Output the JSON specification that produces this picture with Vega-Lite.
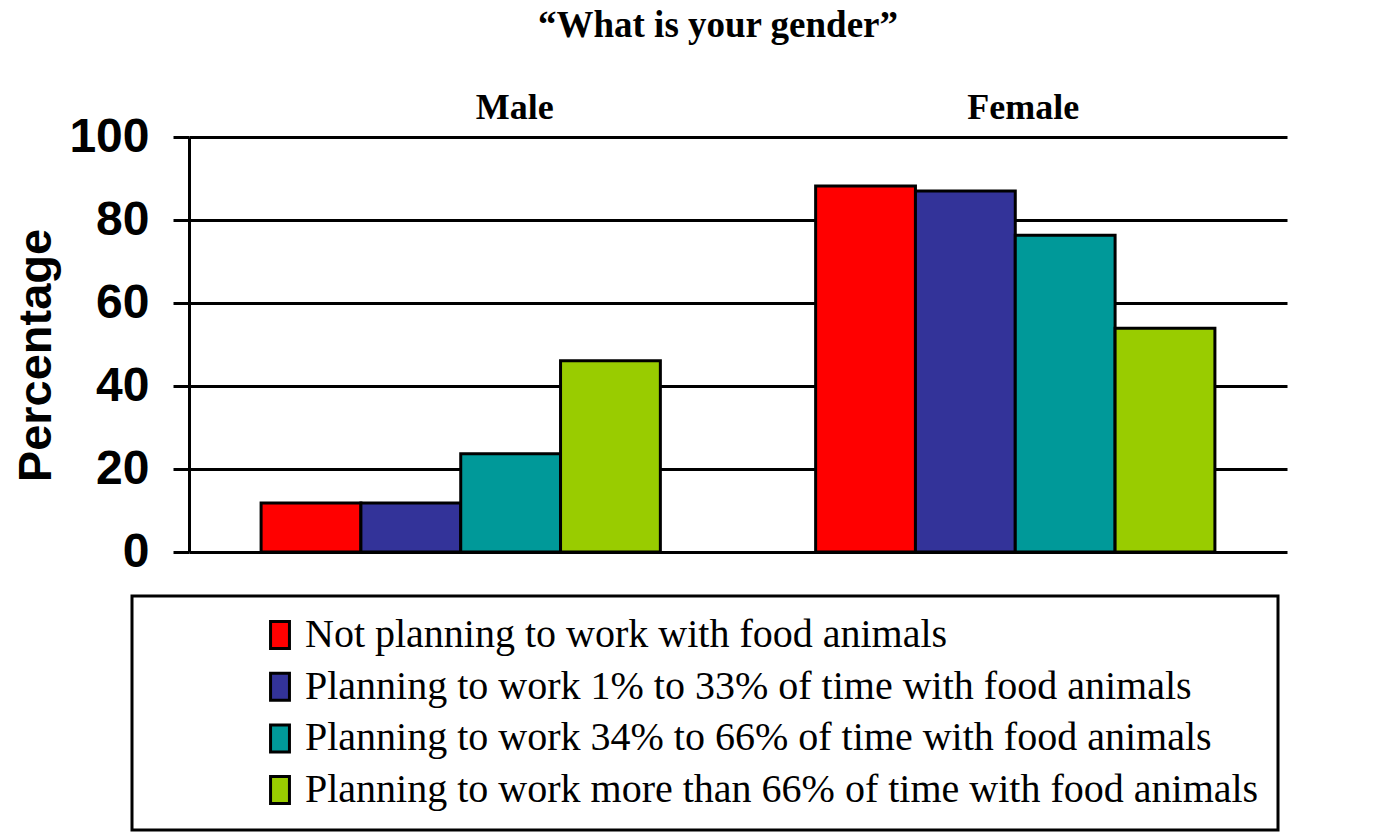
{
  "$schema": "https://vega.github.io/schema/vega-lite/v6.json",
  "width": 1098,
  "height": 415,
  "autosize": {"type": "none"},
  "padding": {"left": 189, "top": 137, "right": 108, "bottom": 281},
  "background": "white",
  "title": {
    "text": "“What is your gender”",
    "font": "Liberation Serif",
    "fontSize": 37,
    "fontWeight": "bold",
    "color": "black",
    "anchor": "middle",
    "frame": "group",
    "dx": -20,
    "offset": 44
  },
  "data": {
    "values": [
      {"gender": "Male", "plan": "Not planning to work with food animals", "pct": 11.8},
      {"gender": "Male", "plan": "Planning to work 1% to 33% of time with food animals", "pct": 11.8},
      {"gender": "Male", "plan": "Planning to work 34% to 66% of time with food animals", "pct": 23.7},
      {"gender": "Male", "plan": "Planning to work more than 66% of time with food animals", "pct": 46.1},
      {"gender": "Female", "plan": "Not planning to work with food animals", "pct": 88.2},
      {"gender": "Female", "plan": "Planning to work 1% to 33% of time with food animals", "pct": 87.0},
      {"gender": "Female", "plan": "Planning to work 34% to 66% of time with food animals", "pct": 76.3},
      {"gender": "Female", "plan": "Planning to work more than 66% of time with food animals", "pct": 53.9}
    ]
  },
  "mark": {"type": "bar", "stroke": "black", "strokeWidth": 3, "strokeJoin": "miter"},
  "encoding": {
    "x": {
      "field": "gender",
      "type": "nominal",
      "sort": ["Male", "Female"],
      "scale": {"paddingInner": 0.28, "paddingOuter": 0.13},
      "axis": {
        "orient": "top",
        "title": null,
        "domain": false,
        "ticks": false,
        "labelAngle": 0,
        "labelFont": "Liberation Serif",
        "labelFontSize": 36,
        "labelFontWeight": "bold",
        "labelColor": "black",
        "labelPadding": 19,
        "labelBaseline": "alphabetic",
        "labelOffset": {"condition": {"test": "datum.value === 'Male'", "value": 54}, "value": 8}
      }
    },
    "xOffset": {
      "field": "plan",
      "type": "nominal",
      "sort": [
        "Not planning to work with food animals",
        "Planning to work 1% to 33% of time with food animals",
        "Planning to work 34% to 66% of time with food animals",
        "Planning to work more than 66% of time with food animals"
      ],
      "scale": {"paddingInner": 0, "paddingOuter": 0}
    },
    "y": {
      "field": "pct",
      "type": "quantitative",
      "scale": {"domain": [0, 100], "nice": false},
      "axis": {
        "values": [0, 20, 40, 60, 80, 100],
        "title": "Percentage",
        "titleFont": "Liberation Sans",
        "titleFontSize": 47,
        "titleFontWeight": "bold",
        "titleColor": "black",
        "titleAngle": 270,
        "titleX": -153,
        "titleY": 218,
        "titleAlign": "center",
        "titleBaseline": "middle",
        "labelFont": "Liberation Sans",
        "labelFontSize": 48,
        "labelFontWeight": "bold",
        "labelColor": "black",
        "labelPadding": 24,
        "labelBaseline": "middle",
        "labelFlush": false,
        "labelOverlap": false,
        "tickSize": 16,
        "tickWidth": 3,
        "tickColor": "black",
        "domainColor": "black",
        "domainWidth": 3,
        "grid": true,
        "gridColor": "black",
        "gridWidth": 3,
        "gridOpacity": 1
      }
    },
    "color": {
      "field": "plan",
      "type": "nominal",
      "scale": {
        "domain": [
          "Not planning to work with food animals",
          "Planning to work 1% to 33% of time with food animals",
          "Planning to work 34% to 66% of time with food animals",
          "Planning to work more than 66% of time with food animals"
        ],
        "range": ["#ff0000", "#333399", "#009999", "#99cc00"]
      },
      "legend": {
        "orient": "none",
        "legendX": -57,
        "legendY": 459,
        "title": null,
        "direction": "vertical",
        "labelFont": "Liberation Serif, Times New Roman, DejaVu Serif, serif",
        "labelFontSize": 40,
        "labelColor": "black",
        "labelLimit": 0,
        "labelBaseline": "middle",
        "symbolType": "M-0.7,-1L0.7,-1L0.7,1L-0.7,1Z",
        "symbolSize": 729,
        "symbolStrokeColor": "black",
        "symbolStrokeWidth": 3,
        "symbolOpacity": 1,
        "symbolOffset": 109,
        "labelOffset": 5,
        "rowPadding": 11.7,
        "padding": 19,
        "strokeColor": "black",
        "encode": {
          "labels": {
            "update": {
              "font": {"value": "Liberation Serif, Times New Roman, DejaVu Serif, serif"}
            }
          }
        }
      }
    }
  },
  "config": {
    "view": {"stroke": null},
    "legend": {"strokeWidth": 3}
  }
}
